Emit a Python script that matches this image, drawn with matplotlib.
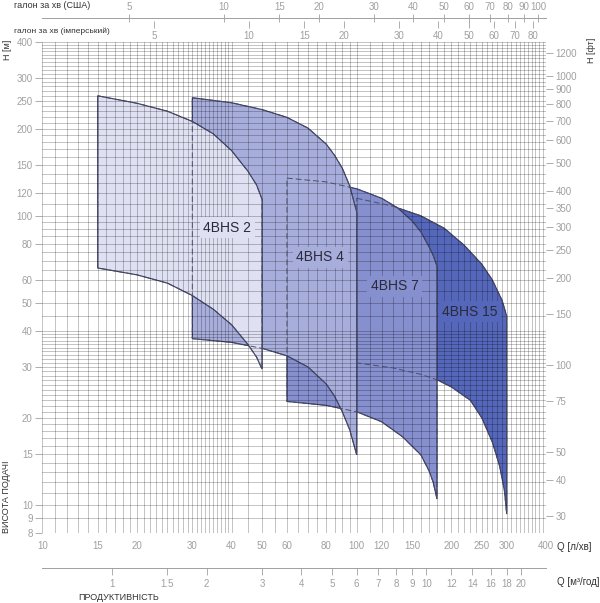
import numpy as np
import matplotlib.pyplot as plt
from matplotlib.ticker import NullFormatter, NullLocator

plt.rcParams['font.family'] = ['Liberation Sans', 'DejaVu Sans']

# --- data: working fields of the pumps, Q in l/min, H in m ---
q2_top = [15, 20, 25, 30, 35, 40, 45, 48, 50]
h2_top = [260, 245, 230, 212, 192, 168, 143, 128, 114]
q2_low = [15, 20, 25, 30, 35, 40, 45, 48, 50]
h2_low = [66, 62.5, 58.5, 53, 47.5, 42, 36, 32.5, 29.5]

q4_top = [30, 40, 50, 60, 70, 80, 85, 90, 95, 100]
h4_top = [256, 246, 233, 219, 201, 177, 162, 146, 127, 103]
q4_low = [30, 40, 50, 60, 70, 80, 85, 90, 95, 100]
h4_low = [37.6, 36.5, 34.8, 32.8, 30, 26.2, 23.8, 21, 18.2, 14.9]

q7_top = [60, 80, 100, 120, 135, 150, 160, 170, 175, 180]
h7_top = [135, 131, 124, 115, 106.5, 96, 88, 78, 73, 67]
q7_low = [60, 80, 100, 120, 140, 160, 170, 175, 180]
h7_low = [22.8, 22.1, 21, 19.4, 17.2, 14.9, 13.1, 12, 10.5]

q15_top = [100, 130, 160, 190, 220, 250, 270, 290, 300]
h15_top = [115, 108, 100, 90.5, 79, 68, 60, 51, 45]
q15_low = [100, 130, 160, 180, 200, 230, 250, 270, 285, 295, 300]
h15_low = [31, 29.8, 28.3, 27.1, 25.6, 23, 20, 16.5, 13.6, 11.2, 9.3]

names = ['4BHS 15', '4BHS 7', '4BHS 4', '4BHS 2']
label_q = [229, 132, 76.5, 38.8]
label_h = [46.5, 57, 72, 91]
colors = ['#5567bb', '#8790cf', '#a8aedc', '#dfe1f2']

# axis ticks
x_ticks = [10, 15, 20, 30, 40, 50, 60, 80, 100, 120, 150, 200, 250, 300, 400]
y_ticks = [8, 9, 10, 15, 20, 30, 40, 50, 60, 80, 100, 120, 150, 200, 250, 300, 400]
ft_ticks = [30, 40, 50, 75, 100, 150, 200, 250, 300, 350, 400, 500, 600, 700, 800, 900, 1000, 1200]
us_ticks = [5, 10, 15, 20, 30, 40, 50, 60, 70, 80, 90, 100]
imp_ticks = [5, 10, 15, 20, 30, 40, 50, 60, 70, 80]
m3_ticks = [1, 1.5, 2, 3, 4, 5, 6, 7, 8, 9, 10, 12, 14, 16, 18, 20]

grid_x = list(range(10, 40)) + list(range(40, 100, 5)) + list(range(100, 401, 10))
grid_y = list(range(8, 40)) + list(range(40, 100, 5)) + list(range(100, 401, 10))

tick_gray = '#a0a0a0'
text_dark = '#333333'
lab_size = 7

fig = plt.figure(figsize=(6, 6.03), dpi=100)
L, W = 42.3 / 600, (546 - 42.3) / 600
B, T = 1 - 533 / 603, 1 - 41.7 / 603
ax = fig.add_axes([L, B, W, T - B])
ax.set_xscale('log')
ax.set_yscale('log')
ax.set_xlim(10, 400)
ax.set_ylim(8, 400)

fields = [(q15_top, h15_top, q15_low, h15_low),
          (q7_top, h7_top, q7_low, h7_low),
          (q4_top, h4_top, q4_low, h4_low),
          (q2_top, h2_top, q2_low, h2_low)]

for i, (qt, ht, ql, hl) in enumerate(fields):
    xs = list(qt) + list(ql)[::-1]
    ys = list(ht) + list(hl)[::-1]
    ax.fill(xs, ys, facecolor=colors[i], edgecolor='#35385a', lw=0.8, zorder=1 + 0.1 * i)
    # hidden outlines show dashed through the pumps in front
    ax.plot(xs + [xs[0]], ys + [ys[0]], color='#4a4d6a', lw=0.7,
            ls=(0, (6, 3)), zorder=3)
    ax.text(label_q[i], label_h[i], names[i], ha='center', va='center',
            fontsize=10, color='#2a2a3a', zorder=4,
            bbox=dict(facecolor=colors[i], edgecolor='none', pad=2.5))

ax.set_xticks(x_ticks, labels=[str(v) for v in x_ticks])
ax.set_yticks(y_ticks, labels=[str(v) for v in y_ticks])
ax.set_xticks(grid_x, minor=True)
ax.set_yticks(grid_y, minor=True)
ax.xaxis.set_minor_formatter(NullFormatter())
ax.yaxis.set_minor_formatter(NullFormatter())
ax.set_axisbelow(False)
ax.grid(True, which='both', color='k', alpha=0.33, lw=0.5)
ax.tick_params(which='minor', length=0)
ax.tick_params(axis='y', which='major', length=5, width=0.6, color=tick_gray,
               labelcolor=tick_gray, labelsize=lab_size, pad=2)
ax.tick_params(axis='x', which='major', length=0, labelcolor=tick_gray,
               labelsize=lab_size, pad=6)
for s in ax.spines.values():
    s.set_visible(False)

# right axis in feet
ax2 = ax.twinx()
ax2.set_yscale('log')
ax2.set_ylim(8 / 0.3048, 400 / 0.3048)
ax2.set_yticks(ft_ticks, labels=[str(v) for v in ft_ticks])
ax2.yaxis.set_minor_locator(NullLocator())
ax2.tick_params(axis='y', length=5, width=0.6, color=tick_gray,
                labelcolor=tick_gray, labelsize=lab_size, pad=2)
for s in ax2.spines.values():
    s.set_visible(False)

# top: US gallons per minute
axu = fig.add_axes([L, 1 - 18 / 603, W, 1e-4])
axu.set_xscale('log')
axu.set_xlim(10 / 3.785, 400 / 3.785)
axu.set_xticks(us_ticks, labels=[str(v) for v in us_ticks])
axu.xaxis.set_minor_locator(NullLocator())
axu.set_yticks([])
axu.patch.set_visible(False)
for s in ['top', 'left', 'right']:
    axu.spines[s].set_visible(False)
axu.spines['bottom'].set_color(tick_gray)
axu.spines['bottom'].set_linewidth(0.7)
axu.tick_params(axis='x', bottom=True, top=False, labelbottom=False, labeltop=True,
                direction='inout', length=6, width=0.6, color=tick_gray,
                labelcolor=tick_gray, labelsize=lab_size, pad=1.5)

# top: imperial gallons per minute
axi = fig.add_axes([L, 1 - 21 / 603, W, 1e-4])
axi.set_xscale('log')
axi.set_xlim(10 / 4.546, 400 / 4.546)
axi.set_xticks(imp_ticks, labels=[str(v) for v in imp_ticks])
axi.xaxis.set_minor_locator(NullLocator())
axi.set_yticks([])
axi.patch.set_visible(False)
for s in axi.spines.values():
    s.set_visible(False)
axi.tick_params(axis='x', direction='out', length=5, width=0.6, color=tick_gray,
                labelcolor=tick_gray, labelsize=lab_size, pad=2)

# bottom: m3/h
axm = fig.add_axes([L, 1 - 568 / 603, W, 1e-4])
axm.set_xscale('log')
axm.set_xlim(10 * 0.06, 400 * 0.06)
axm.set_xticks(m3_ticks, labels=[str(v) for v in m3_ticks])
axm.xaxis.set_minor_locator(NullLocator())
axm.set_yticks([])
axm.patch.set_visible(False)
for s in ['top', 'left', 'right']:
    axm.spines[s].set_visible(False)
axm.spines['bottom'].set_color(tick_gray)
axm.spines['bottom'].set_linewidth(0.7)
axm.tick_params(axis='x', direction='out', length=5, width=0.6, color=tick_gray,
                labelcolor=tick_gray, labelsize=lab_size, pad=3)

# titles
fig.text(14 / 600, 1 - 6 / 603, 'галон за хв (США)', ha='left', va='center',
         fontsize=6.5, color=text_dark)
fig.text(14 / 600, 1 - 31 / 603, 'галон за хв (імперський)', ha='left', va='center',
         fontsize=6, color=text_dark)
fig.text(7 / 600, 1 - 50 / 603, 'H [м]', rotation=90, ha='center', va='center',
         fontsize=6.5, color=text_dark)
fig.text(7 / 600, 1 - 497 / 603, 'ВИСОТА ПОДАЧІ', rotation=90, ha='center', va='center',
         fontsize=6.5, color=text_dark)
fig.text(591 / 600, 1 - 50 / 603, 'H [фт]', rotation=90, ha='center', va='center',
         fontsize=6.5, color=text_dark)
fig.text(557 / 600, 1 - 547 / 603, 'Q [л/хв]', ha='left', va='center',
         fontsize=7, color=text_dark)
fig.text(557 / 600, 1 - 582 / 603, 'Q [м³/год]', ha='left', va='center',
         fontsize=7, color=text_dark)
fig.text(78 / 600, 1 - 597 / 603, 'ПРОДУКТИВНІСТЬ', ha='left', va='center',
         fontsize=6.5, color=text_dark)

fig.savefig('out.png', dpi=100)
